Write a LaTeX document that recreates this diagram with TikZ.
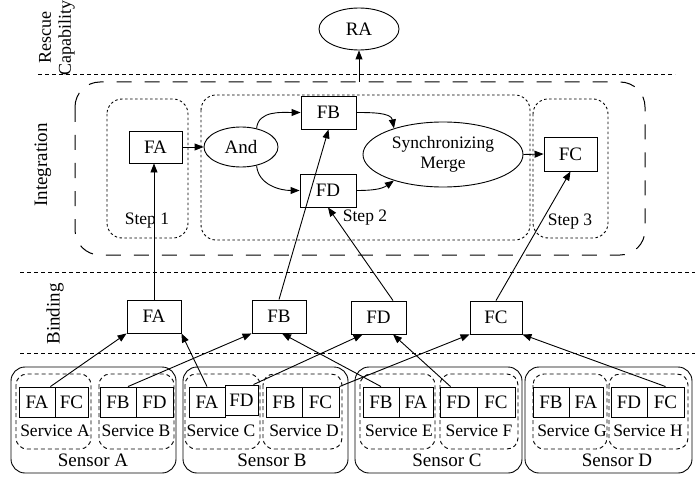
\documentclass[tikz,border=0pt]{standalone}
\usepackage{fontspec}
\setmainfont{Liberation Serif}
\usetikzlibrary{arrows.meta,shapes.geometric,calc}
\begin{document}
\begin{tikzpicture}[x=1pt,y=1pt,
  every node/.style={font=\fontsize{19}{21}\selectfont, inner sep=0pt},
  fbox/.style={draw, line width=0.9pt, minimum height=33pt},
  sbox/.style={draw, line width=0.9pt, minimum height=30pt},
  ell/.style={draw, ellipse, line width=0.9pt, inner sep=0pt},
  conn/.style={-{Triangle[length=9pt,width=7pt]}, line width=0.9pt},
  smalltext/.style={font=\fontsize{17.5}{20}\selectfont},
  sepline/.style={dash pattern=on 4pt off 3pt, line width=0.9pt},
  bigbox/.style={dash pattern=on 15pt off 13pt, line width=1pt, rounded corners=25pt},
  stepbox/.style={dash pattern=on 2.5pt off 2.5pt, line width=0.9pt, rounded corners=15pt},
  servbox/.style={dash pattern=on 4pt off 3pt, line width=0.9pt, rounded corners=11pt},
  sensbox/.style={line width=0.9pt, rounded corners=14pt}
]
\useasboundingbox (0,0) rectangle (695,-481);

% layer labels
\node[rotate=90, align=center, font=\fontsize{18}{20}\selectfont] (lRC) at (57,-38) {Rescue\\Capability};
\node[rotate=90] (lInt) at (43,-165) {Integration};
\node[rotate=90] (lBind) at (55,-314) {Binding};

% separator lines
\draw[sepline] (38,-74) -- (675,-74);
\draw[sepline] (20,-272) -- (695,-272);
\draw[sepline] (20,-353) -- (695,-353);

% rescue capability
\node[ell, minimum width=80pt, minimum height=42pt] (RA) at (359,-29) {RA};
\coordinate (raS) at (359,-82);
\draw[conn] (raS) -- (RA);

% integration containers
\draw[bigbox] (75,-82) rectangle (645,-255);
\draw[stepbox] (107,-99) rectangle (188,-238);
\draw[stepbox] (201,-95) rectangle (530,-240);
\draw[stepbox] (533,-99) rectangle (608,-238);
\node[smalltext] (st1) at (147,-221) {Step 1};
\node[smalltext] (st2) at (365,-218) {Step 2};
\node[smalltext] (st3) at (570,-222) {Step 3};

% integration nodes
\node[fbox, minimum width=53pt, minimum height=32pt] (iFA) at (155.5,-147) {FA};
\node[ell, minimum width=74pt, minimum height=40pt] (And) at (241,-147) {And};
\node[fbox, minimum width=55pt] (iFB) at (328.5,-112.5) {FB};
\node[fbox, minimum width=56pt] (iFD) at (328,-190.5) {FD};
\node[ell, minimum width=160pt, minimum height=65pt, align=center, smalltext] (SM) at (443,-154.5) {Synchronizing\\Merge};
\node[fbox, minimum width=53pt, minimum height=34pt] (iFC) at (570.5,-154) {FC};

\draw[conn] (iFA.east) -- (And.west);
\draw[conn] (And.50) to[out=85,in=180] (iFB.west);
\draw[conn] (And.-50) to[out=-85,in=180] (iFD.west);
\draw[conn] (iFB.east) to[out=0,in=100] (SM.152);
\draw[conn] (iFD.east) to[out=0,in=215] (SM.208);
\draw[conn] (SM.east) -- (iFC.west);

% binding nodes
\node[fbox, minimum width=54pt] (BFA) at (154,-316.5) {FA};
\node[fbox, minimum width=54pt] (BFB) at (279,-316.5) {FB};
\node[fbox, minimum width=55pt] (BFD) at (378.5,-317.5) {FD};
\node[fbox, minimum width=52pt] (BFC) at (496,-317.5) {FC};

\draw[conn] (BFA.north) -- (BFA.north |- iFA.south);
\draw[conn] (BFB.north) -- (iFB.south);
\draw[conn] ([xshift=14.5pt]BFD.north) -- (iFD.south);
\draw[conn] (BFC.north) -- (iFC.south);

% sensors
\draw[sensbox] (11,-367) rectangle (176,-473);
\draw[sensbox] (183,-367) rectangle (348,-473);
\draw[sensbox] (355,-367) rectangle (522,-473);
\draw[sensbox] (525,-367) rectangle (692,-473);
\node (senA) at (93,-460) {Sensor A};
\node (senB) at (272,-460) {Sensor B};
\node (senC) at (447,-460) {Sensor C};
\node (senD) at (617,-460) {Sensor D};

% services
\draw[servbox] (16,-374) rectangle (91,-449);
\draw[servbox] (99,-374) rectangle (174,-449);
\draw[servbox] (185,-374) rectangle (260,-449);
\draw[servbox] (263,-374) rectangle (342,-449);
\draw[servbox] (360,-374) rectangle (435,-449);
\draw[servbox] (440,-374) rectangle (518,-449);
\draw[servbox] (533,-374) rectangle (607,-449);
\draw[servbox] (609,-374) rectangle (688,-449);
\node[smalltext] (lsA) at (55,-431) {Service A};
\node[smalltext] (lsB) at (136,-431) {Service B};
\node[smalltext] (lsC) at (221,-431) {Service C};
\node[smalltext] (lsD) at (304,-431) {Service D};
\node[smalltext] (lsE) at (399,-431) {Service E};
\node[smalltext] (lsF) at (479,-431) {Service F};
\node[smalltext] (lsG) at (572,-431) {Service G};
\node[smalltext] (lsH) at (648,-431) {Service H};

% function boxes in services
\node[sbox, minimum width=36pt] (svA1) at (37,-402) {FA};
\node[sbox, minimum width=33pt] (svA2) at (71.5,-402) {FC};
\node[sbox, minimum width=36pt] (svB1) at (118,-402) {FB};
\node[sbox, minimum width=37pt] (svB2) at (154.5,-402) {FD};
\node[sbox, minimum width=36pt] (svC1) at (207,-402) {FA};
\node[sbox, minimum width=33pt] (svC2) at (241.5,-400) {FD};
\node[sbox, minimum width=36pt] (svD1) at (284,-402) {FB};
\node[sbox, minimum width=37pt] (svD2) at (320.5,-402) {FC};
\node[sbox, minimum width=36pt] (svE1) at (381,-402) {FB};
\node[sbox, minimum width=34pt] (svE2) at (416,-402) {FA};
\node[sbox, minimum width=37pt] (svF1) at (458.5,-402) {FD};
\node[sbox, minimum width=38pt] (svF2) at (496,-402) {FC};
\node[sbox, minimum width=36pt] (svG1) at (551,-402) {FB};
\node[sbox, minimum width=34pt] (svG2) at (586,-402) {FA};
\node[sbox, minimum width=36pt] (svH1) at (629,-402) {FD};
\node[sbox, minimum width=37pt] (svH2) at (665.5,-402) {FC};

% service -> binding
\draw[conn] ([xshift=-5pt]svA1.north east) -- (BFA.south west);
\draw[conn] (svC1.north) -- (BFA.south east);
\draw[conn] ([xshift=10pt]svB1.north) -- (BFB.south west);
\draw[conn] (svE1.north) -- ([xshift=3pt]BFB.south);
\draw[conn] ([xshift=-5pt]svC2.north east) -- ([xshift=12pt]BFD.south west);
\draw[conn] ([xshift=-8pt]svF1.north) -- ([xshift=14.5pt]BFD.south);
\draw[conn] (svD2.north east) -- (BFC.south west);
\draw[conn] (svH2.north) -- (BFC.south east);
\end{tikzpicture}
\end{document}
